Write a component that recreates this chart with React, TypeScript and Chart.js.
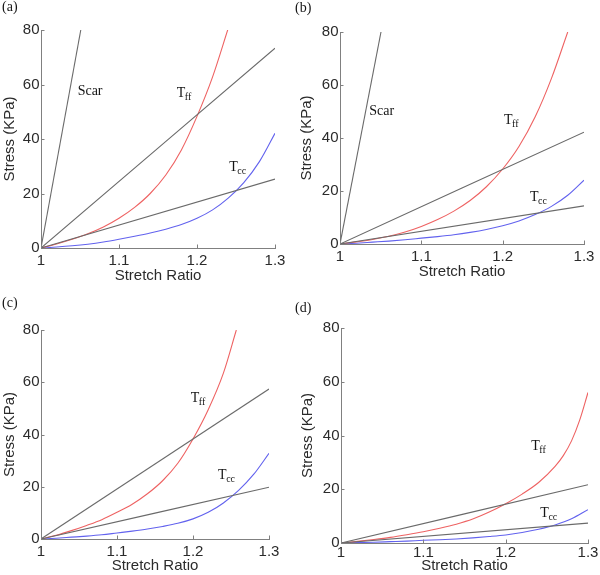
import React, { useEffect, useRef } from "react";
import { Chart, registerables } from "chart.js";

Chart.register(...registerables);

// ---------- axes ----------
const X_TICKS = [1, 1.1, 1.2, 1.3];
const X_TICK_LABELS = ["1", "1.1", "1.2", "1.3"];
const Y_TICKS = [0, 20, 40, 60, 80];
const Y_TICK_LABELS = ["0", "20", "40", "60", "80"];
const X_TITLE = "Stretch Ratio";
const Y_TITLE = "Stress (KPa)";

// ---------- shared stretch grids ----------
const LINE_X = [1, 1.3];
const GRID_X = [1, 1.02, 1.04, 1.06, 1.08, 1.1, 1.12, 1.14, 1.16, 1.18, 1.2, 1.22, 1.24, 1.26, 1.28, 1.3];

// ---------- panel (a) ----------
const A_SCAR_X = [1, 1.051];
const A_SCAR_Y = [0, 80];
const A_UPPER_Y = [0, 73.3];
const A_LOWER_Y = [0, 25.3];
const A_TFF_X = [1, 1.02, 1.04, 1.06, 1.08, 1.1, 1.12, 1.14, 1.16, 1.18, 1.2, 1.22, 1.24];
const A_TFF_Y = [0, 1.5, 3.2, 5.2, 7.7, 10.9, 14.9, 20.0, 26.8, 36.0, 48.3, 62.8, 80.6];
const A_TCC_Y = [0, 0.35, 0.8, 1.4, 2.2, 3.2, 4.3, 5.5, 6.9, 8.6, 10.9, 14.0, 18.3, 24.0, 31.7, 42.1];

// ---------- panel (b) ----------
const B_SCAR_X = [1, 1.0504];
const B_SCAR_Y = [0, 80];
const B_UPPER_Y = [0, 42.2];
const B_LOWER_Y = [0, 14.4];
const B_TFF_X = [1, 1.02, 1.04, 1.06, 1.08, 1.1, 1.12, 1.14, 1.16, 1.18, 1.2, 1.22, 1.24, 1.26, 1.28];
const B_TFF_Y = [0, 0.8, 1.7, 2.9, 4.5, 6.6, 9.2, 12.4, 16.4, 21.6, 28.3, 36.8, 48.0, 62.5, 80];
const B_TCC_Y = [0, 0.3, 0.7, 1.1, 1.6, 2.2, 2.8, 3.5, 4.4, 5.5, 6.9, 8.7, 11.1, 14.2, 18.4, 24.1];

// ---------- panel (c) ----------
const C_UPPER_Y = [0, 57.4];
const C_LOWER_Y = [0, 19.8];
const C_TFF_X = [1, 1.02, 1.04, 1.06, 1.08, 1.1, 1.12, 1.14, 1.16, 1.18, 1.2, 1.22, 1.24, 1.257];
const C_TFF_Y = [0, 1.4, 3.2, 5.2, 7.4, 10.2, 13.3, 17.3, 22.3, 29.0, 38.3, 49.5, 63.5, 80];
const C_TCC_Y = [0, 0.3, 0.7, 1.1, 1.6, 2.3, 3.0, 3.8, 4.8, 6.0, 7.7, 10.2, 13.8, 18.6, 24.8, 32.8];

// ---------- panel (d) ----------
const D_UPPER_Y = [0, 21.7];
const D_LOWER_Y = [0, 7.4];
const D_TFF_X = [1, 1.02, 1.04, 1.06, 1.08, 1.1, 1.12, 1.14, 1.16, 1.18, 1.2, 1.22, 1.24, 1.26, 1.27, 1.28, 1.29, 1.3];
const D_TFF_Y = [0, 0.6, 1.3, 2.1, 3.1, 4.2, 5.5, 7.0, 8.9, 11.5, 14.6, 18.2, 22.5, 28.5, 32.5, 38, 45.8, 56];
const D_TCC_Y = [0, 0.15, 0.3, 0.5, 0.7, 1.0, 1.2, 1.5, 1.9, 2.4, 3.0, 3.9, 5.1, 6.7, 9.0, 12.4];

// ---------- styles ----------
const GRAY = "#6a6a6a";
const RED = "#ee6262";
const BLUE = "#6262ee";
const AXIS = "#808080";
const TEXT = "#2b2b2b";
const SANS = '"Liberation Sans", Arial, Helvetica, sans-serif';
const SERIF = '"Liberation Serif", "Times New Roman", Times, serif';

type Series = { xs: number[]; ys: number[]; color: string };
type Label = { main: string; sub?: string; x: number; y: number };
type Panel = {
  tag: string;
  tagLeft: number;
  tagBaseline: number;
  box: { left: number; top: number; width: number; height: number };
  plot: { left: number; top: number; right: number; bottom: number };
  xTickPad: number;
  yTitlePad: number;
  xTitlePad: number;
  series: Series[];
  labels: Label[];
};

const PANELS: Panel[] = [
  {
    tag: "(a)", tagLeft: 2, tagBaseline: 11.5,
    box: { left: 0, top: 0, width: 300, height: 285 },
    plot: { left: 41, top: 30, right: 275, bottom: 248 },
    xTickPad: 4.2, yTitlePad: 0.7, xTitlePad: 0,
    series: [
      { xs: A_SCAR_X, ys: A_SCAR_Y, color: GRAY },
      { xs: LINE_X, ys: A_UPPER_Y, color: GRAY },
      { xs: LINE_X, ys: A_LOWER_Y, color: GRAY },
      { xs: A_TFF_X, ys: A_TFF_Y, color: RED },
      { xs: GRID_X, ys: A_TCC_Y, color: BLUE },
    ],
    labels: [
      { main: "Scar", x: 1.047, y: 56.1 },
      { main: "T", sub: "ff", x: 1.174, y: 55.5 },
      { main: "T", sub: "cc", x: 1.2414, y: 28.4 },
    ],
  },
  {
    tag: "(b)", tagLeft: 295, tagBaseline: 12.5,
    box: { left: 297, top: 0, width: 303, height: 281 },
    plot: { left: 340, top: 32, right: 584, bottom: 244 },
    xTickPad: 3.9, yTitlePad: 0.5, xTitlePad: 0,
    series: [
      { xs: B_SCAR_X, ys: B_SCAR_Y, color: GRAY },
      { xs: LINE_X, ys: B_UPPER_Y, color: GRAY },
      { xs: LINE_X, ys: B_LOWER_Y, color: GRAY },
      { xs: B_TFF_X, ys: B_TFF_Y, color: RED },
      { xs: GRID_X, ys: B_TCC_Y, color: BLUE },
    ],
    labels: [
      { main: "Scar", x: 1.036, y: 48.7 },
      { main: "T", sub: "ff", x: 1.2017, y: 45.3 },
      { main: "T", sub: "cc", x: 1.2336, y: 16.2 },
    ],
  },
  {
    tag: "(c)", tagLeft: 2, tagBaseline: 307.5,
    box: { left: 0, top: 290, width: 300, height: 285 },
    plot: { left: 41, top: 330, right: 269, bottom: 539 },
    xTickPad: 3.5, yTitlePad: 0.7, xTitlePad: 0.3,
    series: [
      { xs: LINE_X, ys: C_UPPER_Y, color: GRAY },
      { xs: LINE_X, ys: C_LOWER_Y, color: GRAY },
      { xs: C_TFF_X, ys: C_TFF_Y, color: RED },
      { xs: GRID_X, ys: C_TCC_Y, color: BLUE },
    ],
    labels: [
      { main: "T", sub: "ff", x: 1.1971, y: 52.3 },
      { main: "T", sub: "cc", x: 1.233, y: 22.9 },
    ],
  },
  {
    tag: "(d)", tagLeft: 295, tagBaseline: 312.5,
    box: { left: 299, top: 290, width: 301, height: 285 },
    plot: { left: 341, top: 328, right: 588, bottom: 543 },
    xTickPad: 0.7, yTitlePad: 0, xTitlePad: 0.3,
    series: [
      { xs: LINE_X, ys: D_UPPER_Y, color: GRAY },
      { xs: LINE_X, ys: D_LOWER_Y, color: GRAY },
      { xs: D_TFF_X, ys: D_TFF_Y, color: RED },
      { xs: GRID_X, ys: D_TCC_Y, color: BLUE },
    ],
    labels: [
      { main: "T", sub: "ff", x: 1.2311, y: 34.5 },
      { main: "T", sub: "cc", x: 1.2421, y: 9.5 },
    ],
  },
];

function makeDecor(labels: Label[]) {
  return {
    id: "decor",
    afterDatasetsDraw(chart: any) {
      const { ctx, chartArea } = chart;
      const xs = chart.scales.x;
      const ys = chart.scales.y;
      ctx.save();
      // inward tick marks
      ctx.strokeStyle = AXIS;
      ctx.lineWidth = 1;
      X_TICKS.forEach((v) => {
        const px = Math.round(xs.getPixelForValue(v)) + 0.5;
        ctx.beginPath();
        ctx.moveTo(px, chartArea.bottom);
        ctx.lineTo(px, chartArea.bottom - 3.5);
        ctx.stroke();
      });
      Y_TICKS.forEach((v) => {
        const py = Math.round(ys.getPixelForValue(v)) + 0.5;
        ctx.beginPath();
        ctx.moveTo(chartArea.left, py);
        ctx.lineTo(chartArea.left + 3.5, py);
        ctx.stroke();
      });
      // curve labels
      ctx.fillStyle = "#151515";
      ctx.textBaseline = "alphabetic";
      ctx.textAlign = "left";
      labels.forEach((l) => {
        const px = xs.getPixelForValue(l.x);
        const py = ys.getPixelForValue(l.y);
        ctx.font = `14px ${SERIF}`;
        ctx.fillText(l.main, px, py);
        if (l.sub) {
          const w = ctx.measureText(l.main).width;
          ctx.font = `10px ${SERIF}`;
          ctx.fillText(l.sub, px + w - 0.5, py + 3);
        }
      });
      ctx.restore();
    },
  };
}

function PanelChart({ p }: { p: Panel }) {
  const ref = useRef<HTMLCanvasElement | null>(null);
  useEffect(() => {
    if (!ref.current) return;
    const yAxisWidth = p.plot.left - p.box.left;
    const xAxisHeight = p.box.top + p.box.height - p.plot.bottom;
    const padTop = p.plot.top - p.box.top;
    const padRight = p.box.left + p.box.width - p.plot.right;
    const chart = new Chart(ref.current, {
      type: "line",
      data: {
        datasets: p.series.map((s) => ({
          data: s.xs.map((x, i) => ({ x, y: s.ys[i] })),
          borderColor: s.color,
          borderWidth: 1.1,
          pointRadius: 0,
          pointHoverRadius: 0,
          fill: false,
          tension: 0,
          cubicInterpolationMode: "monotone" as const,
        })),
      },
      options: {
        responsive: false,
        animation: false,
        events: [],
        layout: { padding: { left: 0, top: padTop, right: padRight, bottom: 0 } },
        plugins: { legend: { display: false }, tooltip: { enabled: false } },
        scales: {
          x: {
            type: "linear",
            min: 1,
            max: 1.3,
            afterBuildTicks: (scale: any) => {
              scale.ticks = X_TICKS.map((v) => ({ value: v }));
            },
            afterFit: (scale: any) => {
              scale.height = xAxisHeight;
            },
            grid: { display: false, drawTicks: false },
            border: { display: true, color: AXIS, width: 1 },
            ticks: {
              padding: p.xTickPad,
              color: TEXT,
              font: { family: SANS, size: 15 },
              maxRotation: 0,
              autoSkip: false,
              callback: (v: any) => X_TICK_LABELS[X_TICKS.indexOf(Number(v))] ?? "",
            },
            title: {
              display: true,
              text: X_TITLE,
              color: TEXT,
              font: { family: SANS, size: 15 },
              padding: { top: 0, bottom: p.xTitlePad },
            },
          },
          y: {
            type: "linear",
            min: 0,
            max: 80,
            afterBuildTicks: (scale: any) => {
              scale.ticks = Y_TICKS.map((v) => ({ value: v }));
            },
            afterFit: (scale: any) => {
              scale.width = yAxisWidth;
            },
            grid: { display: false, drawTicks: false },
            border: { display: true, color: AXIS, width: 1 },
            ticks: {
              padding: 1.5,
              color: TEXT,
              font: { family: SANS, size: 15 },
              autoSkip: false,
              callback: (v: any) => Y_TICK_LABELS[Y_TICKS.indexOf(Number(v))] ?? "",
            },
            title: {
              display: true,
              text: Y_TITLE,
              color: TEXT,
              font: { family: SANS, size: 15 },
              padding: { top: p.yTitlePad, bottom: 0 },
            },
          },
        },
      },
      plugins: [makeDecor(p.labels)],
    } as any);
    return () => chart.destroy();
  }, [p]);

  return (
    <canvas
      ref={ref}
      width={p.box.width}
      height={p.box.height}
      style={{
        position: "absolute",
        left: p.box.left,
        top: p.box.top,
        width: p.box.width,
        height: p.box.height,
      }}
    />
  );
}

export default function App() {
  return (
    <div
      style={{
        position: "absolute",
        left: 0,
        top: 0,
        width: 600,
        height: 575,
        background: "#ffffff",
        overflow: "hidden",
      }}
    >
      {PANELS.map((p) => (
        <PanelChart key={p.tag} p={p} />
      ))}
      {PANELS.map((p) => (
        <div
          key={p.tag + "-tag"}
          style={{
            position: "absolute",
            left: p.tagLeft,
            top: p.tagBaseline - 11.7,
            fontFamily: SERIF,
            fontSize: 14,
            lineHeight: "14px",
            color: "#151515",
            whiteSpace: "nowrap",
          }}
        >
          {p.tag}
        </div>
      ))}
    </div>
  );
}
